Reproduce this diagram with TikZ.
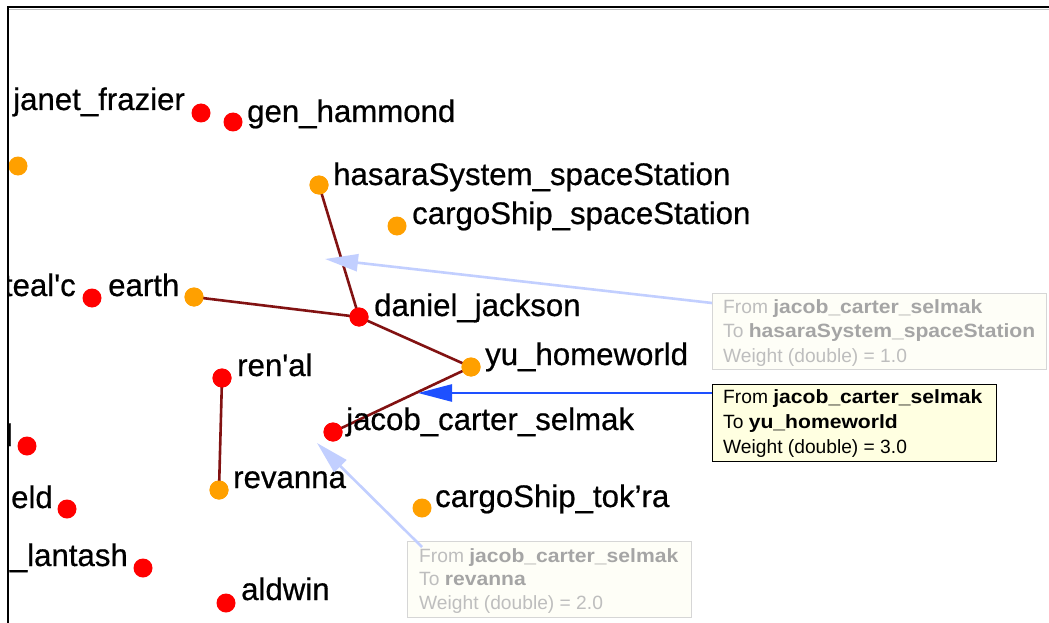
\documentclass[tikz,border=0pt]{standalone}
\usepackage{fontspec}
\usepackage{graphicx}
\setmainfont{Liberation Sans}[Ligatures=TeXOff]
\newfontfamily\labfont{Liberation Sans}[Ligatures=TeXOff,FakeBold=0.6]
\usetikzlibrary{arrows.meta}
\definecolor{vred}{RGB}{255,0,0}
\definecolor{vorange}{RGB}{255,160,0}
\definecolor{edgecol}{RGB}{130,18,18}
\definecolor{fadearrow}{RGB}{194,207,255}
\definecolor{activearrow}{RGB}{30,80,255}
\definecolor{fadefill}{RGB}{254,254,247}
\definecolor{fadeborder}{RGB}{214,214,214}
\definecolor{fadetext}{RGB}{190,190,190}
\definecolor{fadebold}{RGB}{165,165,165}
\definecolor{tipfill}{RGB}{255,255,225}
\newcommand{\tipb}[1]{\scalebox{1.1}[1]{\textbf{#1}}}
\tikzset{
  vtx/.style={circle, inner sep=0pt, minimum size=19pt, draw=none},
  rv/.style={vtx, fill=vred},
  ov/.style={vtx, fill=vorange},
  lab/.style={anchor=base west, inner sep=0pt, font=\labfont\fontsize{31.2}{36}\selectfont},
  labe/.style={lab, anchor=base east},
  link/.style={draw=edgecol, line width=2.6pt},
  tipbox/.style={anchor=north west, inner sep=0pt, minimum height=76pt, align=left},
  tiptext/.style={anchor=base west, inner sep=0pt, font=\fontsize{19.2}{22}\selectfont},
  fadetip/.style={tipbox, fill=fadefill, draw=fadeborder, line width=1.2pt},
  acttip/.style={tipbox, fill=tipfill, draw=black, line width=1.2pt},
  fadearr/.style={draw=fadearrow, line width=2.6pt, -{Triangle[length=33pt,width=17pt]}},
  actarr/.style={draw=activearrow, line width=2.6pt, -{Triangle[length=34pt,width=17pt]}},
}
\begin{document}
\begin{tikzpicture}[x=1pt,y=-1pt]
\useasboundingbox (0,0) rectangle (1049,623);
\fill[white] (0,0) rectangle (1049,623);
\begin{scope}
\clip (8.5,8.5) rectangle (1049,623);
\node[rv] (nA) at (201,113) {};
\node[rv] (gen) at (233,122) {};
\node[ov] (oleft) at (18,166) {};
\node[ov] (hasara) at (319,185) {};
\node[ov] (cargoss) at (397,226) {};
\node[rv] (daniel) at (359,317) {};
\node[rv] (tealc) at (92,298) {};
\node[ov] (earth) at (194,297) {};
\node[rv] (renal) at (222,378) {};
\node[rv] (jacob) at (333,432) {};
\node[ov] (yu) at (471,367) {};
\node[rv] (rleft) at (27,446) {};
\node[ov] (revanna) at (219,490) {};
\node[rv] (eld) at (67,509) {};
\node[rv] (lantash) at (143,568) {};
\node[rv] (aldwin) at (226,603) {};
\node[ov] (tokra) at (422,508) {};
\path[link] (hasara.center) -- (daniel.center);
\path[link] (earth.center) -- (daniel.center);
\path[link] (daniel.center) -- (yu.center);
\path[link] (yu.center) -- (jacob.center);
\path[link] (renal.center) -- (revanna.center);
% redraw vertices on top of edges
\foreach \n in {hasara,earth,yu,revanna}{\fill[vorange] (\n) circle (9.5pt);}
\foreach \n in {daniel,jacob,renal}{\fill[vred] (\n) circle (9.5pt);}
% labels
\node[lab] (tjanet) at (13,110) {janet\_frazier};
\node[lab] (tgen) at (247,122) {gen\_hammond};
\node[lab] (thasara) at (333,185) {hasaraSystem\_spaceStation};
\node[lab] (tcargoss) at (412,224) {cargoShip\_spaceStation};
\node[labe] (ttealc) at (76,296) {teal'c};
\node[lab] (tearth) at (108,296) {earth};
\node[lab] (tdaniel) at (374,316) {daniel\_jackson};
\node[lab] (tyu) at (485,365) {yu\_homeworld};
\node[lab] (trenal) at (237,376) {ren'al};
\node[lab] (tjacob) at (346,430) {jacob\_carter\_selmak};
\node[labe] (tl) at (13,446) {l};
\node[lab] (trevanna) at (233,488) {revanna};
\node[labe] (teld) at (53,508) {eld};
\node[lab] (ttokra) at (435,507) {cargoShip\_tok’ra};
\node[labe] (tlantash) at (128,566) {\_lantash};
\node[lab] (taldwin) at (241,600) {aldwin};
% tooltips
\node[fadetip, minimum width=334pt] (tip1) at (712,293) {};
\node[tiptext, text=fadetext] (tip1a) at (723,313) {From \color{fadebold}\tipb{jacob\_carter\_selmak}};
\node[tiptext, text=fadetext] (tip1b) at (723,337) {To \color{fadebold}\tipb{hasaraSystem\_spaceStation}};
\node[tiptext, text=fadetext] (tip1c) at (723,362) {Weight (double) = 1.0};
\node[acttip, minimum width=284pt, minimum height=77pt] (tip2) at (712,384) {};
\node[tiptext] (tip2a) at (723,403) {From \tipb{jacob\_carter\_selmak}};
\node[tiptext] (tip2b) at (723,428) {To \tipb{yu\_homeworld}};
\node[tiptext] (tip2c) at (723,453) {Weight (double) = 3.0};
\node[fadetip, minimum width=284pt] (tip3) at (407,541) {};
\node[tiptext, text=fadetext] (tip3a) at (419,562) {From \color{fadebold}\tipb{jacob\_carter\_selmak}};
\node[tiptext, text=fadetext] (tip3b) at (419,585) {To \color{fadebold}\tipb{revanna}};
\node[tiptext, text=fadetext] (tip3c) at (419,609) {Weight (double) = 2.0};
% tooltip arrows
\coordinate (a1start) at (712,303);
\coordinate (a2start) at (712,393);
\coordinate (a3start) at (422,547);
\coordinate (a1tip) at (325,259);
\coordinate (a2tip) at (418,393);
\coordinate (a3tip) at (317,443);
\draw[fadearr] (a1start) -- (a1tip);
\draw[actarr] (a2start) -- (a2tip);
\draw[fadearr] (a3start) -- (a3tip);
\end{scope}
% frame
\draw[black, line width=2pt] (7.5,623) -- (7.5,7.5) -- (1049,7.5);
\draw[black!25, line width=1pt] (8.5,9.5) -- (1049,9.5);
\end{tikzpicture}
\end{document}
